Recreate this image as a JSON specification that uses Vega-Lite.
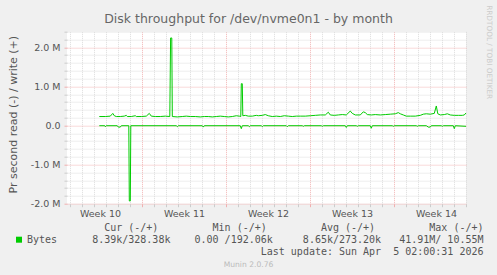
{
  "$schema": "https://vega.github.io/schema/vega-lite/v6.json",
  "width": 399,
  "height": 172,
  "autosize": {"type": "none"},
  "padding": {"left": 67, "top": 31.7, "right": 31, "bottom": 71.3},
  "background": "#f0f0f0",
  "config": {"view": {"stroke": null, "fill": "#ffffff"}, "font": "DejaVu Sans"},
  "resolve": {"axis": {"x": "independent", "y": "independent"}},
  "datasets": {
    "disk": [
      {"d": 3.442, "v": 0.23, "s": "write"},
      {"d": 3.942, "v": 0.23, "s": "write"},
      {"d": 4.358, "v": 0.24, "s": "write"},
      {"d": 4.567, "v": 0.31, "s": "write"},
      {"d": 4.692, "v": 0.25, "s": "write"},
      {"d": 4.858, "v": 0.23, "s": "write"},
      {"d": 5.192, "v": 0.23, "s": "write"},
      {"d": 5.525, "v": 0.24, "s": "write"},
      {"d": 5.692, "v": 0.26, "s": "write"},
      {"d": 5.775, "v": 0.23, "s": "write"},
      {"d": 6.108, "v": 0.23, "s": "write"},
      {"d": 6.442, "v": 0.25, "s": "write"},
      {"d": 6.525, "v": 0.23, "s": "write"},
      {"d": 6.942, "v": 0.23, "s": "write"},
      {"d": 7.358, "v": 0.24, "s": "write"},
      {"d": 7.608, "v": 0.31, "s": "write"},
      {"d": 7.775, "v": 0.24, "s": "write"},
      {"d": 8.108, "v": 0.23, "s": "write"},
      {"d": 8.525, "v": 0.23, "s": "write"},
      {"d": 8.942, "v": 0.24, "s": "write"},
      {"d": 9.317, "v": 0.23, "s": "write"},
      {"d": 9.383, "v": 2.24, "s": "write"},
      {"d": 9.483, "v": 2.24, "s": "write"},
      {"d": 9.525, "v": 0.23, "s": "write"},
      {"d": 9.942, "v": 0.22, "s": "write"},
      {"d": 10.358, "v": 0.23, "s": "write"},
      {"d": 10.692, "v": 0.24, "s": "write"},
      {"d": 11.025, "v": 0.23, "s": "write"},
      {"d": 11.442, "v": 0.23, "s": "write"},
      {"d": 11.858, "v": 0.22, "s": "write"},
      {"d": 12.192, "v": 0.23, "s": "write"},
      {"d": 12.525, "v": 0.23, "s": "write"},
      {"d": 12.858, "v": 0.22, "s": "write"},
      {"d": 13.192, "v": 0.23, "s": "write"},
      {"d": 13.525, "v": 0.24, "s": "write"},
      {"d": 13.858, "v": 0.23, "s": "write"},
      {"d": 14.192, "v": 0.22, "s": "write"},
      {"d": 14.525, "v": 0.23, "s": "write"},
      {"d": 14.858, "v": 0.25, "s": "write"},
      {"d": 15.108, "v": 0.24, "s": "write"},
      {"d": 15.233, "v": 0.23, "s": "write"},
      {"d": 15.275, "v": 1.07, "s": "write"},
      {"d": 15.358, "v": 1.07, "s": "write"},
      {"d": 15.4, "v": 0.25, "s": "write"},
      {"d": 15.608, "v": 0.26, "s": "write"},
      {"d": 15.858, "v": 0.24, "s": "write"},
      {"d": 16.192, "v": 0.24, "s": "write"},
      {"d": 16.525, "v": 0.26, "s": "write"},
      {"d": 16.692, "v": 0.25, "s": "write"},
      {"d": 17.025, "v": 0.26, "s": "write"},
      {"d": 17.275, "v": 0.28, "s": "write"},
      {"d": 17.525, "v": 0.25, "s": "write"},
      {"d": 17.858, "v": 0.23, "s": "write"},
      {"d": 18.192, "v": 0.24, "s": "write"},
      {"d": 18.525, "v": 0.23, "s": "write"},
      {"d": 18.858, "v": 0.25, "s": "write"},
      {"d": 19.192, "v": 0.24, "s": "write"},
      {"d": 19.525, "v": 0.23, "s": "write"},
      {"d": 19.858, "v": 0.24, "s": "write"},
      {"d": 20.192, "v": 0.24, "s": "write"},
      {"d": 20.608, "v": 0.24, "s": "write"},
      {"d": 21.025, "v": 0.25, "s": "write"},
      {"d": 21.442, "v": 0.26, "s": "write"},
      {"d": 21.858, "v": 0.27, "s": "write"},
      {"d": 22.275, "v": 0.27, "s": "write"},
      {"d": 22.525, "v": 0.34, "s": "write"},
      {"d": 22.692, "v": 0.27, "s": "write"},
      {"d": 23.025, "v": 0.26, "s": "write"},
      {"d": 23.358, "v": 0.27, "s": "write"},
      {"d": 23.692, "v": 0.28, "s": "write"},
      {"d": 24.025, "v": 0.27, "s": "write"},
      {"d": 24.358, "v": 0.37, "s": "write"},
      {"d": 24.525, "v": 0.31, "s": "write"},
      {"d": 24.775, "v": 0.27, "s": "write"},
      {"d": 25.192, "v": 0.27, "s": "write"},
      {"d": 25.442, "v": 0.35, "s": "write"},
      {"d": 25.608, "v": 0.33, "s": "write"},
      {"d": 25.775, "v": 0.28, "s": "write"},
      {"d": 26.108, "v": 0.27, "s": "write"},
      {"d": 26.442, "v": 0.28, "s": "write"},
      {"d": 26.858, "v": 0.27, "s": "write"},
      {"d": 27.275, "v": 0.28, "s": "write"},
      {"d": 27.692, "v": 0.29, "s": "write"},
      {"d": 28.108, "v": 0.3, "s": "write"},
      {"d": 28.358, "v": 0.33, "s": "write"},
      {"d": 28.525, "v": 0.3, "s": "write"},
      {"d": 28.775, "v": 0.27, "s": "write"},
      {"d": 29.025, "v": 0.24, "s": "write"},
      {"d": 29.358, "v": 0.24, "s": "write"},
      {"d": 29.775, "v": 0.24, "s": "write"},
      {"d": 30.192, "v": 0.26, "s": "write"},
      {"d": 30.442, "v": 0.29, "s": "write"},
      {"d": 30.692, "v": 0.3, "s": "write"},
      {"d": 31.025, "v": 0.29, "s": "write"},
      {"d": 31.358, "v": 0.31, "s": "write"},
      {"d": 31.525, "v": 0.5, "s": "write"},
      {"d": 31.65, "v": 0.3, "s": "write"},
      {"d": 31.858, "v": 0.27, "s": "write"},
      {"d": 32.192, "v": 0.28, "s": "write"},
      {"d": 32.442, "v": 0.3, "s": "write"},
      {"d": 32.692, "v": 0.27, "s": "write"},
      {"d": 33.025, "v": 0.26, "s": "write"},
      {"d": 33.358, "v": 0.26, "s": "write"},
      {"d": 33.692, "v": 0.26, "s": "write"},
      {"d": 33.858, "v": 0.27, "s": "write"},
      {"d": 34.0, "v": 0.32, "s": "write"},
      {"d": 3.442, "v": -0.005, "s": "read"},
      {"d": 3.9, "v": -0.005, "s": "read"},
      {"d": 3.942, "v": -0.03, "s": "read"},
      {"d": 4.025, "v": -0.005, "s": "read"},
      {"d": 4.942, "v": -0.005, "s": "read"},
      {"d": 5.025, "v": -0.04, "s": "read"},
      {"d": 5.192, "v": -0.04, "s": "read"},
      {"d": 5.275, "v": -0.005, "s": "read"},
      {"d": 5.9, "v": -0.005, "s": "read"},
      {"d": 5.942, "v": -1.93, "s": "read"},
      {"d": 6.025, "v": -1.93, "s": "read"},
      {"d": 6.067, "v": -0.005, "s": "read"},
      {"d": 9.858, "v": -0.005, "s": "read"},
      {"d": 9.942, "v": -0.03, "s": "read"},
      {"d": 10.025, "v": -0.005, "s": "read"},
      {"d": 12.025, "v": -0.005, "s": "read"},
      {"d": 12.108, "v": -0.04, "s": "read"},
      {"d": 12.192, "v": -0.005, "s": "read"},
      {"d": 15.192, "v": -0.005, "s": "read"},
      {"d": 15.275, "v": -0.08, "s": "read"},
      {"d": 15.358, "v": -0.005, "s": "read"},
      {"d": 15.858, "v": -0.005, "s": "read"},
      {"d": 15.942, "v": -0.03, "s": "read"},
      {"d": 16.025, "v": -0.005, "s": "read"},
      {"d": 16.942, "v": -0.005, "s": "read"},
      {"d": 17.025, "v": -0.03, "s": "read"},
      {"d": 17.108, "v": -0.005, "s": "read"},
      {"d": 19.025, "v": -0.005, "s": "read"},
      {"d": 19.108, "v": -0.03, "s": "read"},
      {"d": 19.192, "v": -0.005, "s": "read"},
      {"d": 20.358, "v": -0.005, "s": "read"},
      {"d": 20.442, "v": -0.02, "s": "read"},
      {"d": 20.525, "v": -0.005, "s": "read"},
      {"d": 21.942, "v": -0.005, "s": "read"},
      {"d": 22.025, "v": -0.02, "s": "read"},
      {"d": 22.108, "v": -0.005, "s": "read"},
      {"d": 23.942, "v": -0.005, "s": "read"},
      {"d": 24.025, "v": -0.05, "s": "read"},
      {"d": 24.108, "v": -0.005, "s": "read"},
      {"d": 24.858, "v": -0.005, "s": "read"},
      {"d": 24.942, "v": -0.02, "s": "read"},
      {"d": 25.025, "v": -0.005, "s": "read"},
      {"d": 26.025, "v": -0.005, "s": "read"},
      {"d": 26.108, "v": -0.07, "s": "read"},
      {"d": 26.192, "v": -0.005, "s": "read"},
      {"d": 27.858, "v": -0.005, "s": "read"},
      {"d": 27.942, "v": -0.02, "s": "read"},
      {"d": 28.025, "v": -0.005, "s": "read"},
      {"d": 29.858, "v": -0.005, "s": "read"},
      {"d": 29.942, "v": -0.02, "s": "read"},
      {"d": 30.025, "v": -0.005, "s": "read"},
      {"d": 30.692, "v": -0.005, "s": "read"},
      {"d": 30.858, "v": -0.04, "s": "read"},
      {"d": 31.025, "v": -0.04, "s": "read"},
      {"d": 31.108, "v": -0.005, "s": "read"},
      {"d": 31.942, "v": -0.005, "s": "read"},
      {"d": 32.025, "v": -0.02, "s": "read"},
      {"d": 32.108, "v": -0.005, "s": "read"},
      {"d": 32.942, "v": -0.005, "s": "read"},
      {"d": 33.025, "v": -0.08, "s": "read"},
      {"d": 33.108, "v": -0.005, "s": "read"},
      {"d": 34.0, "v": -0.02, "s": "read"}
    ]
  },
  "layer": [
    {
      "data": {"name": "disk"},
      "mark": {"type": "line", "strokeWidth": 1, "interpolate": "linear"},
      "encoding": {
        "x": {
          "field": "d", "type": "quantitative",
          "scale": {"domain": [0.75, 34.0], "nice": false, "zero": false},
          "axis": {
            "orient": "bottom",
            "values": [1, 2, 3, 4, 5, 6, 8, 9, 10, 11, 12, 13, 15, 16, 17, 18, 19, 20, 22, 23, 24, 25, 26, 27, 29, 30, 31, 32, 33, 34],
            "labels": false, "domain": false, "ticks": true, "tickSize": 3, "tickColor": "#cccccc",
            "grid": true, "gridColor": "#dcdcdc", "gridDash": [1, 1], "gridWidth": 1, "title": null
          }
        },
        "y": {
          "field": "v", "type": "quantitative",
          "scale": {"domain": [-2.0, 2.4], "nice": false, "zero": false},
          "axis": {
            "orient": "left",
            "values": [-1.8, -1.6, -1.4, -1.2, -0.8, -0.6, -0.4, -0.2, 0.2, 0.4, 0.6, 0.8, 1.2, 1.4, 1.6, 1.8, 2.2, 2.4],
            "labels": false, "domain": false, "ticks": true, "tickSize": 3, "tickColor": "#cccccc",
            "grid": true, "gridColor": "#dcdcdc", "gridDash": [1, 1], "gridWidth": 1, "title": null
          }
        },
        "detail": {"field": "s", "type": "nominal"},
        "color": {
          "datum": "Bytes",
          "scale": {"domain": ["Bytes"], "range": ["#00cc00"]},
          "legend": {
            "orient": "none", "legendX": -53, "legendY": 203, "title": null,
            "symbolType": "square", "symbolSize": 36, "symbolFillColor": "#00cc00", "symbolStrokeColor": "#00cc00", "symbolStrokeWidth": 0,
            "labelFont": "DejaVu Sans Mono", "labelFontSize": 10, "labelColor": "#555555", "labelOffset": 3, "padding": 0,
            "encode": {"symbols": {"update": {"fill": {"value": "#00cc00"}, "stroke": {"value": "#00cc00"}, "strokeWidth": {"value": 0}, "opacity": {"value": 1}, "shape": {"value": "square"}}}}
          }
        }
      }
    },
    {
      "mark": {"type": "rule", "color": "#cfd6f8", "strokeWidth": 1},
      "encoding": {
        "x": {
          "datum": 0.75, "type": "quantitative",
          "scale": {"domain": [0.75, 34.0], "nice": false, "zero": false},
          "axis": {
            "orient": "bottom", "values": [7, 14, 21, 28],
            "labels": false, "domain": false, "ticks": true, "tickSize": 3, "tickColor": "#f0b0b0",
            "grid": true, "gridColor": "#f2b4b4", "gridDash": [1, 1], "gridWidth": 1,
            "title": "Munin 2.0.76", "titleX": 181, "titleY": 63, "titleAlign": "center", "titleBaseline": "alphabetic",
            "titleFont": "DejaVu Sans", "titleFontSize": 7.6, "titleFontWeight": "normal", "titleColor": "#bbbbbb"
          }
        },
        "x2": {"datum": 34.3},
        "y": {
          "datum": -2.0, "type": "quantitative",
          "scale": {"domain": [-2.0, 2.4], "nice": false, "zero": false},
          "axis": {
            "orient": "left", "values": [-2, -1, 0, 1, 2],
            "domain": false, "ticks": true, "tickSize": 3, "tickColor": "#f0b0b0",
            "grid": true, "gridColor": "#f2b4b4", "gridDash": [1, 1], "gridWidth": 1,
            "labelExpr": "datum.value == 0 ? '0.0' : (datum.value < 0 ? '-' : '') + format(abs(datum.value), '.1f') + ' M'",
            "labelFont": "DejaVu Sans", "labelFontSize": 9.5, "labelColor": "#555555", "labelPadding": 4, "labelBaseline": "middle",
            "labelOverlap": false, "labelFlush": false,
            "title": "Pr second read (-) / write (+)", "titleFont": "DejaVu Sans", "titleFontSize": 11, "titleFontWeight": "normal",
            "titleColor": "#555555", "titleAngle": -90, "titleX": -54, "titleY": 82.5, "titleAlign": "center", "titleBaseline": "middle"
          }
        }
      }
    },
    {
      "mark": {"type": "rule", "color": "#cfd6f8", "strokeWidth": 1},
      "encoding": {
        "x": {
          "datum": 0.75, "type": "quantitative",
          "scale": {"domain": [0.75, 34.0], "nice": false, "zero": false},
          "axis": {
            "orient": "bottom", "values": [3.5, 10.5, 17.5, 24.5, 31.5],
            "labelExpr": "'Week ' + (floor(datum.value / 7) + 10)",
            "ticks": false, "tickSize": 0, "domain": false, "grid": false,
            "labelFont": "DejaVu Sans", "labelFontSize": 9.5, "labelColor": "#555555", "labelPadding": 12.5, "labelBaseline": "alphabetic",
            "labelFlush": false, "labelOverlap": false,
            "title": [
              "Cur (-/+)\u00a0\u00a0\u00a0\u00a0\u00a0\u00a0\u00a0\u00a0\u00a0Min (-/+)\u00a0\u00a0\u00a0\u00a0\u00a0\u00a0\u00a0\u00a0\u00a0Avg (-/+)\u00a0\u00a0\u00a0\u00a0\u00a0\u00a0\u00a0\u00a0\u00a0Max (-/+)\u00a0",
              "8.39k/328.38k\u00a0\u00a0\u00a0\u00a00.00\u00a0/192.06k\u00a0\u00a0\u00a0\u00a0\u00a08.65k/273.20k\u00a0\u00a0\u00a041.91M/\u00a010.55M",
              "Last update: Sun Apr\u00a0\u00a05 02:00:31 2026"
            ],
            "titleX": 416, "titleY": 26.7, "titleAlign": "right", "titleBaseline": "alphabetic",
            "titleFont": "DejaVu Sans Mono", "titleFontSize": 10, "titleFontWeight": "normal", "titleColor": "#555555", "titleLineHeight": 12
          }
        },
        "y": {
          "datum": -2.0, "type": "quantitative",
          "scale": {"domain": [-2.0, 2.4], "nice": false, "zero": false},
          "axis": {
            "orient": "right", "labels": false, "ticks": false, "domain": false, "grid": false,
            "title": "RRDTOOL / TOBI OETIKER", "titleAngle": 90, "titleX": 22, "titleY": -27, "titleAlign": "left", "titleBaseline": "middle",
            "titleFont": "DejaVu Sans", "titleFontSize": 7.3, "titleFontWeight": "normal", "titleColor": "#cccccc"
          }
        },
        "y2": {"datum": 2.55}
      }
    },
    {
      "mark": {"type": "rule", "color": "#000000", "stroke": "#000000", "strokeWidth": 1.2, "opacity": 1},
      "encoding": {
        "x": {"datum": 0.75, "type": "quantitative", "scale": {"domain": [0.75, 34.0], "nice": false, "zero": false}, "axis": null},
        "x2": {"datum": 34.0},
        "y": {"datum": 0, "type": "quantitative", "scale": {"domain": [-2.0, 2.4], "nice": false, "zero": false}, "axis": null}
      }
    },
    {
      "mark": {"type": "point", "shape": "triangle-right", "filled": true, "color": "#cfd6f8", "size": 22, "opacity": 1},
      "encoding": {
        "x": {
          "datum": 34.4, "type": "quantitative",
          "scale": {"domain": [0.75, 34.0], "nice": false, "zero": false},
          "axis": {
            "orient": "top", "labels": false, "ticks": false, "domain": false, "grid": false,
            "title": "Disk throughput for /dev/nvme0n1 - by month", "titleX": 181, "titleY": -9, "titleAlign": "center", "titleBaseline": "alphabetic",
            "titleFont": "DejaVu Sans", "titleFontSize": 12.5, "titleFontWeight": "normal", "titleColor": "#666666"
          }
        },
        "y": {"datum": -2.0, "type": "quantitative", "scale": {"domain": [-2.0, 2.4], "nice": false, "zero": false}, "axis": null}
      }
    },
    {
      "mark": {"type": "point", "shape": "triangle-up", "filled": true, "color": "#cfd6f8", "size": 22, "opacity": 1},
      "encoding": {
        "x": {"datum": 0.75, "type": "quantitative", "scale": {"domain": [0.75, 34.0], "nice": false, "zero": false}, "axis": null},
        "y": {"datum": 2.6, "type": "quantitative", "scale": {"domain": [-2.0, 2.4], "nice": false, "zero": false}, "axis": null}
      }
    }
  ]
}
